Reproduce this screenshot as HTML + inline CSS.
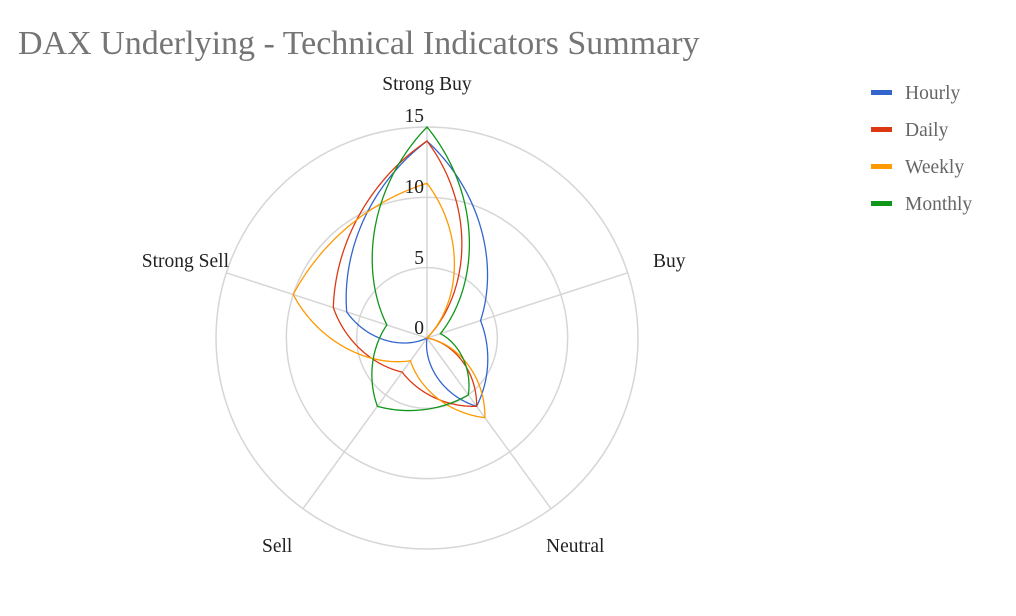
<!DOCTYPE html>
<html><head><meta charset="utf-8"><style>
html,body{margin:0;padding:0;background:#fff;width:1016px;height:616px;overflow:hidden}
svg{display:block;font-family:"Liberation Serif",serif}
</style></head><body>
<svg id="s" width="1016" height="616" viewBox="0 0 1016 616">
<text x="18" y="54" font-size="34" fill="#757575">DAX Underlying - Technical Indicators Summary</text>
<g id="grid" stroke="#d6d6d6" stroke-width="1.5" fill="none"></g>
<g id="series" fill="none" stroke-width="1.3"></g>
<g font-size="19.5" fill="#222">
<text x="427" y="90" text-anchor="middle">Strong Buy</text>
<text x="653" y="267">Buy</text>
<text x="546" y="552">Neutral</text>
<text x="262" y="552">Sell</text>
<text x="229" y="267" text-anchor="end">Strong Sell</text>
</g>
<g font-size="19.5" fill="#222" text-anchor="end">
<text x="424" y="122">15</text>
<text x="424" y="193">10</text>
<text x="424" y="264">5</text>
<text x="424" y="334">0</text>
</g>
<g font-size="19.5" fill="#666">
<rect x="871" y="90" width="21" height="5" fill="#3366cc"/><text x="905" y="99">Hourly</text>
<rect x="871" y="127" width="21" height="5" fill="#dc3912"/><text x="905" y="136">Daily</text>
<rect x="871" y="164" width="21" height="5" fill="#ff9900"/><text x="905" y="173">Weekly</text>
<rect x="871" y="201" width="21" height="5" fill="#109618"/><text x="905" y="210">Monthly</text>
</g>
</svg>
<script>
var cx=427,cy=338,R=211,max=15,ns="http://www.w3.org/2000/svg";
var g=document.getElementById('grid');
function el(t,a,p){var e=document.createElementNS(ns,t);for(var k in a)e.setAttribute(k,a[k]);p.appendChild(e);return e;}
[5,10,15].forEach(function(v){el('circle',{cx:cx,cy:cy,r:R*v/max},g);});
function pa(a,v){var r=R*v/max;return [cx+r*Math.cos(a),cy+r*Math.sin(a)];}
for(var i=0;i<5;i++){var p=pa(-Math.PI/2+i*2*Math.PI/5,15);el('line',{x1:cx,y1:cy,x2:p[0],y2:p[1]},g);}
var data=[["#3366cc",[14,4,6,0,6]],["#dc3912",[14,0,6,3,7]],["#ff9900",[11,0,7,2,10]],["#109618",[15,1,5,6,3]]];
var sg=document.getElementById('series'),W=0.4,D=2*Math.PI/5;
data.forEach(function(d){
 var v=d[1],path="",N=60;
 for(var i=0;i<5;i++){
  var a0=-Math.PI/2+i*D,v0=v[i],v1=v[(i+1)%5];
  var A=pa(a0,v0),B=pa(a0+D,v1);
  for(var k=0;k<=N;k++){
   if(i>0&&k==0)continue;
   var f=k/N;
   var P=pa(a0+f*D,v0+(v1-v0)*f);
   var x=(1-W)*P[0]+W*(A[0]+(B[0]-A[0])*f), y=(1-W)*P[1]+W*(A[1]+(B[1]-A[1])*f);
   path+=(path?"L":"M")+x.toFixed(2)+","+y.toFixed(2);
  }
 }
 el('path',{d:path+"Z",stroke:d[0]},sg);
});
</script>
</body></html>
